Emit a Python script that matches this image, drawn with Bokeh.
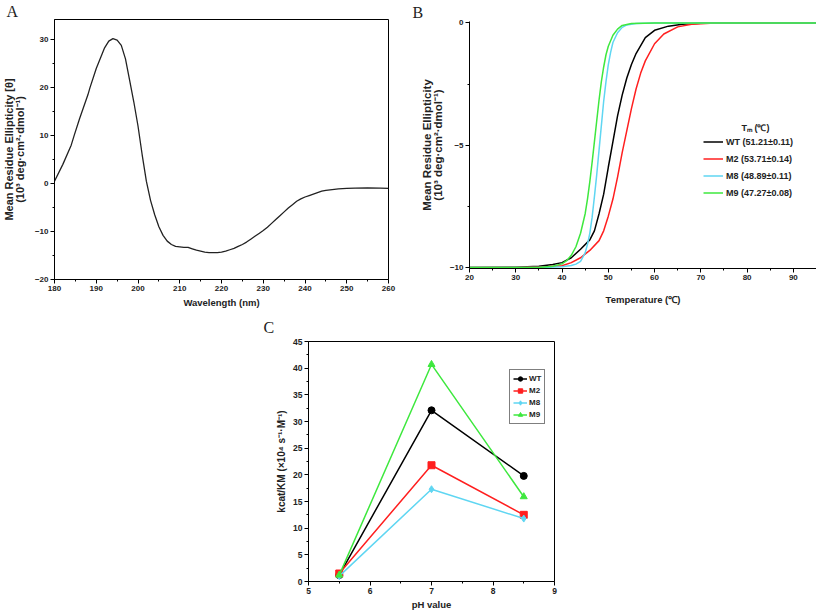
from bokeh.plotting import figure
from bokeh.layouts import column, row
from bokeh.models import Label, Legend, LegendItem, Spacer, FixedTicker, Range1d, Title
from bokeh.embed import file_html
from bokeh.resources import INLINE

# ---------------- data ----------------
# Panel A: CD spectrum
wavelength = [180, 182, 184, 184.7, 186, 188, 188.5, 190, 192, 193, 194, 195, 196, 197, 198, 199, 200,
              201, 202, 203, 204, 205, 206, 207, 208, 209, 210, 211, 212, 213, 214, 215, 216,
              217, 218, 219, 220, 221, 222, 223, 224, 225, 226, 227, 228, 229, 230, 231, 232,
              233, 234, 235, 236, 237, 238, 239, 240, 241, 242, 243, 244, 245, 246, 247, 248,
              250, 252, 255, 258, 260]
ellipticity = [0.5, 4.0, 8.0, 10.0, 13.5, 18.5, 20.0, 24.0, 28.3, 29.7, 30.2, 29.9, 28.8, 26.0, 21.5, 17.0, 12.0,
               6.0, 0.5, -3.5, -6.5, -9.0, -10.8, -12.0, -12.7, -13.1, -13.2, -13.3, -13.3, -13.6, -13.9, -14.1, -14.3,
               -14.4, -14.4, -14.4, -14.3, -14.1, -13.8, -13.5, -13.1, -12.7, -12.2, -11.6, -11.0, -10.4, -9.8, -9.1, -8.3,
               -7.5, -6.7, -5.9, -5.1, -4.4, -3.7, -3.2, -2.8, -2.5, -2.2, -1.9, -1.6, -1.4, -1.3, -1.2, -1.1,
               -1.0, -0.95, -0.9, -0.95, -1.0]

# Panel B: thermal melting curves
wt_T = [20, 30, 35, 38, 40, 42, 44, 46, 47, 48, 49, 50, 51, 52, 53, 54, 55, 56, 58, 60, 63, 66, 70, 80, 95]
wt_v = [-10, -9.99, -9.95, -9.88, -9.8, -9.6, -9.25, -8.87, -8.5, -7.8, -7.0, -5.9, -4.85, -3.8, -2.95,
        -2.25, -1.7, -1.25, -0.6, -0.3, -0.13, -0.05, -0.01, 0, 0]
m2_T = [20, 30, 36, 40, 42, 44, 46, 48, 49, 50, 51, 52, 53, 54, 55, 56, 57, 58, 60, 62, 65, 68, 72, 80, 95]
m2_v = [-10, -10, -9.98, -9.93, -9.8, -9.6, -9.3, -8.9, -8.5, -7.9, -7.2, -6.3, -5.3, -4.4, -3.5,
        -2.7, -2.05, -1.55, -0.85, -0.45, -0.16, -0.05, -0.01, 0, 0]
m8_T = [20, 35, 40, 42, 43, 44, 45, 45.5, 46, 46.5, 47, 47.5, 48, 48.5, 49, 49.5, 50, 50.5, 51, 52, 53, 54, 56, 60, 95]
m8_v = [-10, -10, -9.97, -9.92, -9.86, -9.75, -9.4, -9.05, -8.6, -7.95, -7.1, -6.2, -5.2, -4.2, -3.2,
        -2.4, -1.7, -1.2, -0.8, -0.4, -0.18, -0.08, -0.02, 0, 0]
m9_T = [20, 35, 38, 40, 41, 42, 43, 44, 45, 45.5, 46, 46.5, 47, 47.5, 48, 48.5, 49, 49.5, 50, 51, 52, 53, 55, 60, 95]
m9_v = [-10, -10, -9.95, -9.85, -9.72, -9.5, -9.15, -8.6, -7.8, -7.2, -6.5, -5.7, -4.85, -4.0, -3.15,
        -2.4, -1.8, -1.3, -0.95, -0.5, -0.25, -0.1, -0.02, 0, 0]
tm_labels = ["WT (51.21±0.11)", "M2 (53.71±0.14)", "M8 (48.89±0.11)", "M9 (47.27±0.08)"]

# Panel C: catalytic efficiency vs pH
ph = [5.5, 7.0, 8.5]
eff_wt = [1.2, 32.1, 19.8]
eff_m2 = [1.5, 21.8, 12.5]
eff_m8 = [1.0, 17.3, 11.8]
eff_m9 = [1.2, 40.7, 15.9]
series_names = ["WT", "M2", "M8", "M9"]

# ---------------- style ----------------
FONT = "Liberation Sans"
SERIF = "Liberation Serif"
BLACK = "#000000"
RED = "#ff1f1f"
CYAN = "#5fd6f2"
GREEN = "#3ee83e"


def style(p, xticks, xminor, yticks, yminor, xlabel, ylabel):
    p.xaxis.ticker = FixedTicker(ticks=xticks, minor_ticks=xminor)
    p.yaxis.ticker = FixedTicker(ticks=yticks, minor_ticks=yminor)
    p.xgrid.visible = False
    p.ygrid.visible = False
    for ax in (p.xaxis[0], p.yaxis[0]):
        ax.axis_line_color = "black"
        ax.axis_line_width = 1
        ax.major_tick_out = 4
        ax.major_tick_in = 0
        ax.minor_tick_out = 2
        ax.minor_tick_in = 0
        ax.major_tick_line_color = "black"
        ax.minor_tick_line_color = "black"
        ax.major_label_text_font = FONT
        ax.major_label_text_font_style = "bold"
        ax.major_label_text_font_size = "8px"
        ax.major_label_text_color = "#222222"
        ax.major_label_standoff = 2
        ax.axis_label_text_font = FONT
        ax.axis_label_text_font_style = "bold"
        ax.axis_label_text_color = "#222222"
    p.xaxis.axis_label = xlabel
    p.yaxis.axis_label = ylabel
    p.xaxis.axis_label_text_font_size = "9.5px"
    p.yaxis.axis_label_text_font_size = "11px"
    p.yaxis.axis_label_text_line_height = 0.9
    p.xaxis.axis_label_standoff = 3
    p.yaxis.axis_label_standoff = 4
    p.background_fill_color = "white"
    p.border_fill_color = "white"


def letter(p, text, offset, standoff):
    p.add_layout(Title(text=text, align="left", offset=offset, standoff=standoff,
                       text_font=SERIF, text_font_size="16px", text_font_style="normal",
                       text_color="#222222"), "above")


# ---------------- Panel A ----------------
pA = figure(width=400, height=310, output_backend="svg", toolbar_location=None, title=None,
            x_range=Range1d(180, 260), y_range=Range1d(-20, 34.2), frame_align=False,
            min_border_left=50, min_border_right=12, min_border_top=16, min_border_bottom=31)
style(pA, list(range(180, 261, 10)), list(range(185, 260, 10)),
      list(range(-20, 31, 10)), list(range(-15, 34, 10)),
      "Wavelength (nm)", "Mean Residue Ellipticity [θ]\n(10³ deg·cm²·dmol⁻¹)")
pA.yaxis.axis_label_standoff = 6
pA.outline_line_color = "black"
pA.outline_line_width = 1
pA.line(wavelength, ellipticity, line_color="#222222", line_width=1.3)
letter(pA, "A", -48, 0)

# ---------------- Panel B ----------------
pB = figure(width=416, height=310, output_backend="svg", toolbar_location=None, title=None,
            x_range=Range1d(20, 95), y_range=Range1d(-10.04, 0.06), frame_align=False,
            min_border_left=69, min_border_right=0, min_border_top=21, min_border_bottom=42)
style(pB, list(range(20, 91, 10)), list(range(25, 90, 10)),
      [-10, -5, 0], [-7.5, -2.5],
      "Temperature (℃)", "Mean Residue Ellipticity\n(10³ deg·cm²·dmol⁻¹)")
pB.yaxis.axis_label_text_font_size = "11.5px"
pB.yaxis.axis_label_standoff = 3
pB.xaxis.axis_label_standoff = 11
pB.outline_line_color = None
rb = []
for T, v, c in ((wt_T, wt_v, BLACK), (m2_T, m2_v, RED), (m8_T, m8_v, CYAN), (m9_T, m9_v, GREEN)):
    rb.append(pB.line(T, v, line_color=c, line_width=1.5))
legB = Legend(items=[LegendItem(label=lab, renderers=[r]) for lab, r in zip(tm_labels, rb)],
              location=(234, 69), orientation="vertical",
              border_line_color=None, background_fill_alpha=0,
              padding=0, margin=0, spacing=4, glyph_width=20, glyph_height=13,
              label_height=13, label_standoff=3,
              label_text_font=FONT, label_text_font_style="bold", label_text_font_size="9px",
              label_text_color="#222222")
pB.add_layout(legB, "center")
pB.add_layout(Label(x=286, y=141, x_units="screen", y_units="screen", text="Tₘ (℃)",
                    text_font=FONT, text_font_style="bold", text_font_size="9px",
                    text_align="center", text_baseline="middle", text_color="#222222"))
letter(pB, "B", -57, 2)

# ---------------- Panel C ----------------
pC = figure(width=310, height=302, output_backend="svg", toolbar_location=None, title=None,
            x_range=Range1d(5, 9), y_range=Range1d(0, 45), frame_align=False,
            min_border_left=46, min_border_right=18, min_border_top=31, min_border_bottom=28)
style(pC, [5, 6, 7, 8, 9], [5.5, 6.5, 7.5, 8.5],
      list(range(0, 46, 5)), [2.5 + 5 * i for i in range(9)],
      "pH value", "kcat/KM (×10⁴ s⁻¹·M⁻¹)")
pC.xaxis.major_label_text_font_size = "8.5px"
pC.yaxis.major_label_text_font_size = "8.5px"
pC.yaxis.axis_label_text_font_size = "10px"
pC.yaxis.axis_label_standoff = 3
pC.xaxis.axis_label_standoff = 2
pC.outline_line_color = "black"
pC.outline_line_width = 1
items = []
for name, vals, c, mk, sz in (("WT", eff_wt, BLACK, "circle", 7), ("M2", eff_m2, RED, "square", 7),
                              ("M8", eff_m8, CYAN, "diamond", 7), ("M9", eff_m9, GREEN, "triangle", 7)):
    l = pC.line(ph, vals, line_color=c, line_width=1.5)
    s = pC.scatter(ph, vals, marker=mk, size=sz, fill_color=c, line_color=c)
    items.append(LegendItem(label=name, renderers=[l, s]))
legC = Legend(items=items, location=(201, 157), border_line_color="black", border_line_width=1,
              background_fill_color="white", padding=3, margin=0, spacing=1,
              glyph_width=14, glyph_height=11, label_height=11, label_width=12, label_standoff=2,
              label_text_font=FONT, label_text_font_style="bold", label_text_font_size="8px",
              label_text_color="#222222")
pC.add_layout(legC, "center")
letter(pC, "C", -45, 11)

layout = column(row(pA, pB), row(Spacer(width=262, height=302), pC))
open("out.html", "w").write(file_html(layout, INLINE))
